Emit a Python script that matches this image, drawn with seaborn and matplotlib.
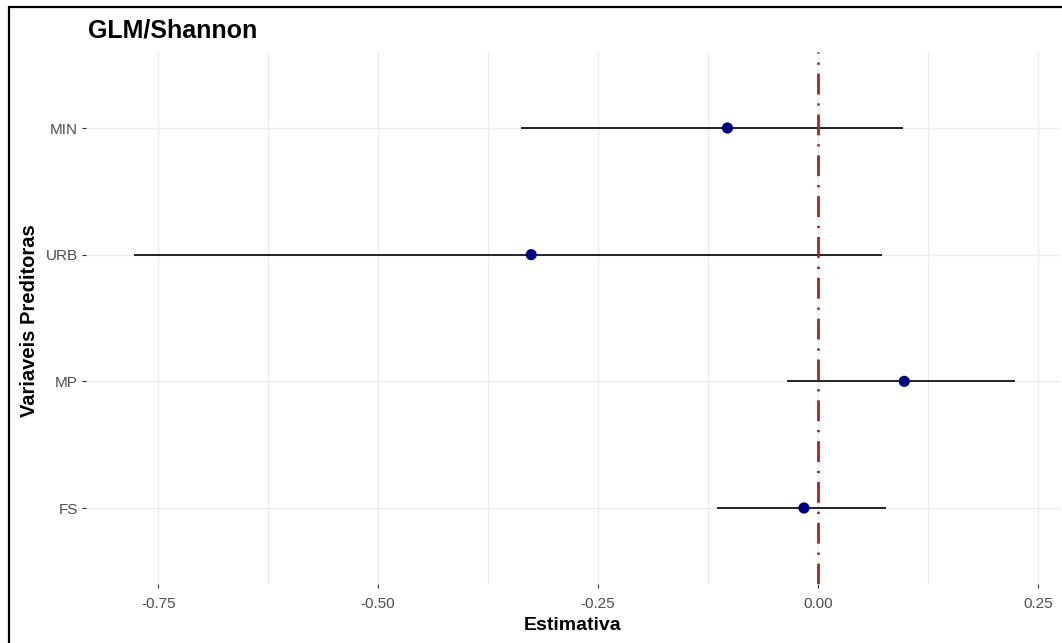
import matplotlib
matplotlib.use("Agg")
import matplotlib.pyplot as plt
from matplotlib.lines import Line2D
from matplotlib.ticker import AutoMinorLocator
import seaborn as sns
import pandas as pd

# ---- data ----
variables = ["MIN", "URB", "MP", "FS"]
estimate = [-0.103, -0.326, 0.098, -0.016]
ci_low = [-0.338, -0.778, -0.035, -0.115]
ci_high = [0.097, 0.073, 0.224, 0.077]
x_ticks = [-0.75, -0.50, -0.25, 0.00, 0.25]
x_tick_labels = ["-0.75", "-0.50", "-0.25", "0.00", "0.25"]

sns.set_theme(style="white")
plt.rcParams["font.family"] = ["Liberation Sans", "DejaVu Sans"]

W, H = 1062, 643
fig = plt.figure(figsize=(W / 100, H / 100), dpi=100)
fig.patch.set_facecolor("white")
ax = fig.add_axes([86 / W, 1 - 584 / H, 974 / W, 532 / H])
ax.set_facecolor("white")

df = pd.DataFrame({"var": variables, "est": estimate, "lo": ci_low, "hi": ci_high})

sns.scatterplot(data=df, x="est", y="var", color="#000080", s=65,
                edgecolor="none", zorder=5, ax=ax, legend=False)
ax.hlines(y=df["var"], xmin=df["lo"], xmax=df["hi"], color="black",
          lw=1.2, zorder=2)
ax.axvline(0, color="#b22222", lw=2.0, dashes=(7.5, 3.2, 0.8, 3.2), zorder=3)

ax.set_xlim(-0.832, 0.275)
ax.set_ylim(3.6, -0.6)
ax.set_xticks(x_ticks)
ax.set_xticklabels(x_tick_labels)
ax.xaxis.set_minor_locator(AutoMinorLocator(2))

ax.grid(which="major", axis="both", color="#ebebeb", lw=1.0, zorder=0)
ax.grid(which="minor", axis="x", color="#ebebeb", lw=0.9, zorder=0)
ax.set_axisbelow(True)
for s in ax.spines.values():
    s.set_visible(False)

ax.tick_params(axis="both", which="major", length=3, width=0.8,
               color="#333333", labelcolor="#4d4d4d", labelsize=11, pad=3,
               bottom=True, left=True)
ax.tick_params(axis="x", which="major", pad=6)
ax.tick_params(which="minor", length=0)
ax.set_xlabel("")
ax.set_ylabel("")

fig.text(88 / W, 1 - 31 / H, "GLM/Shannon", fontsize=18, fontweight="bold",
         color="black", ha="left", va="center")
fig.text(573 / W, 1 - 625 / H, "Estimativa", fontsize=14, fontweight="bold",
         color="black", ha="center", va="center")
fig.text(30 / W, 1 - 321 / H, "Variaveis Preditoras", fontsize=14.5,
         fontweight="bold", color="black", ha="center", va="center",
         rotation=90)

# outer frame (left and top edges visible in the reference)
fig.add_artist(Line2D([9 / W, 9 / W], [0, 1 - 7 / H], transform=fig.transFigure,
                      color="black", lw=1.6))
fig.add_artist(Line2D([9 / W, 1], [1 - 7 / H, 1 - 7 / H], transform=fig.transFigure,
                      color="black", lw=1.6))

fig.savefig("out.png", dpi=100, facecolor="white")
